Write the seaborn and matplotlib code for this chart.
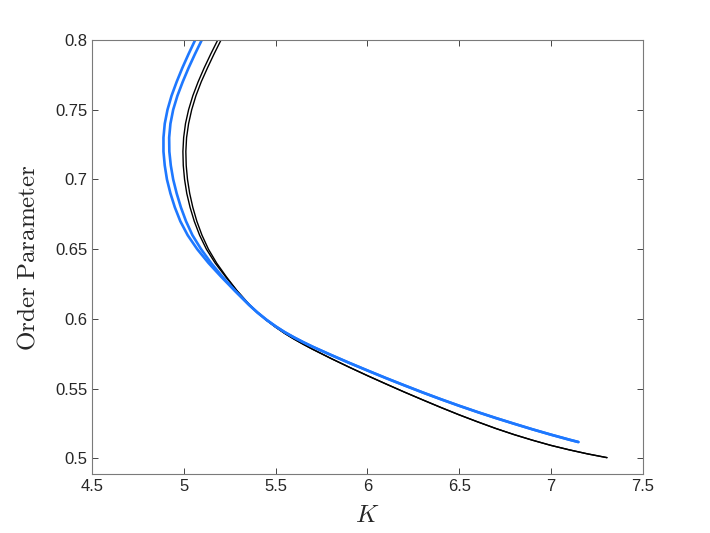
import numpy as np
import pandas as pd
import matplotlib
matplotlib.use("Agg")
import matplotlib.pyplot as plt
import seaborn as sns
from matplotlib.ticker import FormatStrFormatter

# Values (order parameter r vs coupling K)
# Upper part: the two close lines of each colour, read at the same r levels
r_upper = [0.800, 0.790, 0.780, 0.770, 0.760, 0.750, 0.740, 0.730, 0.720, 0.710, 0.700,
           0.690, 0.680, 0.670, 0.660, 0.650, 0.640, 0.630, 0.620, 0.610]
blue_a_upper = [5.061, 5.025, 4.991, 4.960, 4.932, 4.910, 4.895, 4.888, 4.888, 4.895, 4.907,
                4.926, 4.950, 4.980, 5.020, 5.072, 5.134, 5.204, 5.278, 5.355]
blue_b_upper = [5.097, 5.060, 5.025, 4.993, 4.964, 4.941, 4.926, 4.919, 4.920, 4.928, 4.941,
                4.960, 4.983, 5.011, 5.046, 5.093, 5.148, 5.211, 5.280, 5.355]
black_a_upper = [5.184, 5.146, 5.110, 5.077, 5.048, 5.025, 5.008, 4.998, 4.994, 4.996, 5.003,
                 5.015, 5.033, 5.056, 5.085, 5.122, 5.170, 5.228, 5.290, 5.358]
black_b_upper = [5.202, 5.164, 5.128, 5.094, 5.065, 5.042, 5.025, 5.014, 5.010, 5.012, 5.019,
                 5.031, 5.048, 5.070, 5.098, 5.133, 5.178, 5.232, 5.290, 5.358]

# Lower branch (both lines of a colour coincide here)
blue_lower_K = [5.40, 5.45, 5.50, 5.55, 5.60, 5.65, 5.70, 5.80, 5.90, 6.00, 6.10, 6.20,
                6.30, 6.40, 6.50, 6.60, 6.70, 6.80, 6.90, 7.00, 7.10, 7.15]
blue_lower_r = [0.6046, 0.5993, 0.5946, 0.5904, 0.5867, 0.5833, 0.5801, 0.5742, 0.5685,
                0.5630, 0.5576, 0.5524, 0.5473, 0.5424, 0.5377, 0.5332, 0.5289, 0.5248,
                0.5208, 0.5170, 0.5134, 0.5117]
black_lower_K = [5.40, 5.45, 5.50, 5.55, 5.60, 5.65, 5.70, 5.80, 5.90, 6.00, 6.10, 6.20,
                 6.30, 6.40, 6.50, 6.60, 6.70, 6.80, 6.90, 7.00, 7.10, 7.20, 7.306]
black_lower_r = [0.6048, 0.5990, 0.5940, 0.5895, 0.5855, 0.5818, 0.5783, 0.5717, 0.5654,
                 0.5593, 0.5534, 0.5476, 0.5420, 0.5365, 0.5312, 0.5262, 0.5214, 0.5170,
                 0.5130, 0.5093, 0.5061, 0.5032, 0.5005]

BLUE = "#1E78FF"

sns.set_theme(style="white")
plt.rcParams["mathtext.fontset"] = "cm"
plt.rcParams["font.family"] = ["Liberation Sans", "DejaVu Sans"]

rows = []
for name, ku, kl, rl in [("blue_a", blue_a_upper, blue_lower_K, blue_lower_r),
                         ("blue_b", blue_b_upper, blue_lower_K, blue_lower_r),
                         ("black_a", black_a_upper, black_lower_K, black_lower_r),
                         ("black_b", black_b_upper, black_lower_K, black_lower_r)]:
    ks = list(ku) + list(kl)
    rs = list(r_upper) + list(rl)
    for k, r in zip(ks, rs):
        rows.append({"curve": name, "K": k, "r": r})
df = pd.DataFrame(rows)

fig = plt.figure(figsize=(7.1, 5.33), dpi=100)
ax = fig.add_axes([0.13, 0.11, 0.775, 0.815])

for name in ["black_a", "black_b"]:
    sns.lineplot(data=df[df["curve"] == name], x="K", y="r", sort=False, estimator=None,
                 color="black", linewidth=1.0, ax=ax)
for name in ["blue_a", "blue_b"]:
    sns.lineplot(data=df[df["curve"] == name], x="K", y="r", sort=False, estimator=None,
                 color=BLUE, linewidth=1.9, ax=ax)

ax.set_xlim(4.5, 7.5)
ax.set_ylim(0.4885, 0.8)
ax.set_xticks(np.arange(4.5, 7.51, 0.5))
ax.set_yticks(np.arange(0.5, 0.801, 0.05))
ax.xaxis.set_major_formatter(FormatStrFormatter("%g"))
ax.yaxis.set_major_formatter(FormatStrFormatter("%g"))
ax.tick_params(direction="in", length=4, width=0.6, colors="#262626",
               labelsize=12, top=True, right=True, bottom=True, left=True)
for s in ax.spines.values():
    s.set_color("#7a7a7a")
    s.set_linewidth(0.8)

ax.set_xlabel(r"$K$", fontsize=18, color="#262626", labelpad=6)
ax.set_ylabel(r"$\mathrm{Order\ Parameter}$", fontsize=18, color="#262626", labelpad=11)

plt.savefig("out.png", dpi=100)
